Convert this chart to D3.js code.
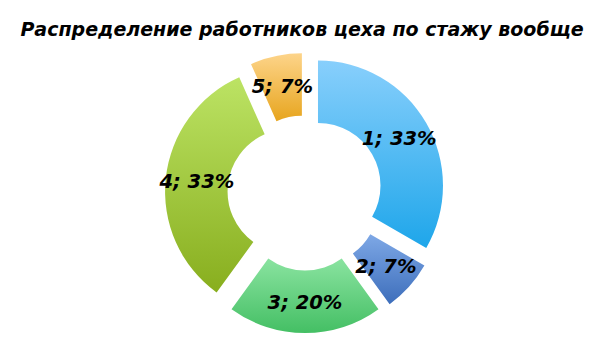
<!DOCTYPE html>
<html lang="ru">
<head>
  <meta charset="UTF-8">
  <script src="https://d3js.org/d3.v7.min.js"></script>
  <style>
    body { margin: 0; background: white; }
    text { font-family: "DejaVu Sans", sans-serif; font-weight: bold; font-style: italic; }
  </style>
</head>
<body>
  <div id="chart"></div>
<script>
  var title = "Распределение работников цеха по стажу вообще";
  var categories = ["1", "2", "3", "4", "5"];
  var values = [5, 1, 3, 5, 1];
  var topColors = ["#88cffc", "#7ea8e6", "#8ae3a0", "#bce364", "#fdd48a"];
  var bottomColors = ["#1ea6ea", "#3d6ebb", "#44bf64", "#88ae1e", "#e7a51e"];

  var width = 605, height = 341;
  var cx = 305, cy = 193, outerR = 125, innerR = 62.5, explode = 15;

  var svg = d3.select("#chart").append("svg")
    .attr("width", width)
    .attr("height", height);

  var defs = svg.append("defs");
  categories.forEach(function (c, i) {
    var g = defs.append("linearGradient")
      .attr("id", "grad" + i)
      .attr("x1", 0).attr("y1", 0).attr("x2", 0).attr("y2", 1);
    g.append("stop").attr("offset", "0%").attr("stop-color", topColors[i]);
    g.append("stop").attr("offset", "100%").attr("stop-color", bottomColors[i]);
  });

  svg.append("text")
    .attr("x", 302)
    .attr("y", 36)
    .attr("text-anchor", "middle")
    .style("font-size", "19px")
    .text(title);

  var total = d3.sum(values);
  var pie = d3.pie().sort(null).value(d => d);
  var arcs = pie(values);
  var arc = d3.arc().innerRadius(innerR).outerRadius(outerR);

  var g = svg.append("g").attr("transform", "translate(" + cx + "," + cy + ")");

  var slices = g.selectAll("g.slice")
    .data(arcs)
    .enter()
    .append("g")
    .attr("class", "slice")
    .attr("transform", function (d) {
      var a = (d.startAngle + d.endAngle) / 2;
      return "translate(" + (Math.sin(a) * explode) + "," + (-Math.cos(a) * explode) + ")";
    });

  slices.append("path")
    .attr("d", arc)
    .attr("fill", (d, i) => "url(#grad" + i + ")");

  slices.append("text")
    .attr("transform", d => "translate(" + arc.centroid(d) + ")")
    .attr("text-anchor", "middle")
    .attr("dy", "0.35em")
    .style("font-size", "19.5px")
    .text((d, i) => categories[i] + "; " + Math.round(d.value / total * 100) + "%");
</script>
</body>
</html>
